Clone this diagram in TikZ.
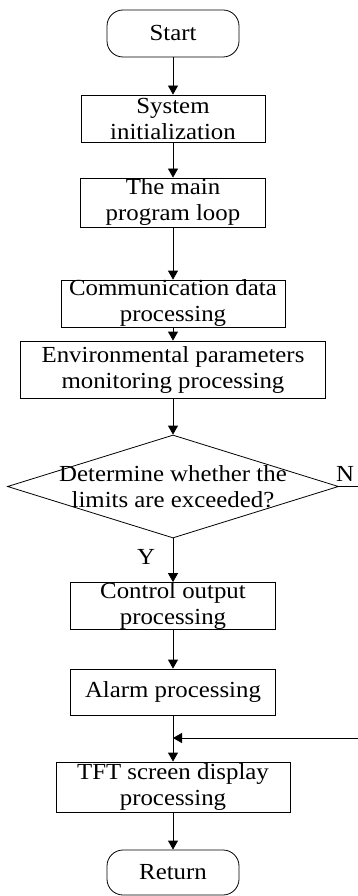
\documentclass[tikz,border=0pt]{standalone}
\usepackage{fontspec}
\setmainfont{Liberation Serif}[FakeStretch=1.08]
\usetikzlibrary{shapes.geometric,arrows.meta}
\begin{document}
\begin{tikzpicture}[x=1pt,y=-1pt,line width=.8pt,
    >={Triangle[length=9pt,width=10pt]},
    font=\fontsize{23}{26}\selectfont,
    box/.style={draw,align=center,inner sep=0pt},
    term/.style={box,rounded corners=16pt,minimum width=132pt},
    decision/.style={draw,diamond,inner sep=0pt,minimum width=331pt,minimum height=103pt}]
  \useasboundingbox(0,0)rectangle(358,896);
  \node[term,minimum height=47pt](start)at(173,33.5){Start};
  \node[box,minimum width=184pt,minimum height=47pt](init)at(173,118.5){System\\initialization};
  \node[box,minimum width=185pt,minimum height=49pt](loop)at(173,202.5){The main\\program loop};
  \node[box,minimum width=224pt,minimum height=43pt](comm)at(173,303.5){Communication data\\processing};
  \node[box,minimum width=305pt,minimum height=57pt](env)at(173,369.5){Environmental parameters\\monitoring processing};
  \node[decision,label={[align=center]center:Determine whether the\\limits are exceeded?}](dec)at(173,486.5){};
  \node[box,minimum width=205pt,minimum height=46pt](ctrl)at(173,606){Control output\\processing};
  \node[box,minimum width=205pt,minimum height=46pt](alarm)at(173,692){Alarm processing};
  \node[box,minimum width=234pt,minimum height=50pt](tft)at(173,787){TFT screen display\\processing};
  \node[term,minimum height=45pt](ret)at(173,872.5){Return};
  \node(yes)at(146,557){Y};
  \node(no)at(345,474){N};
  \coordinate(nend)at(358,486.5);
  \coordinate(back)at(358,738);
  \draw[->](start)--(init);
  \draw[->](init)--(loop);
  \draw[->](loop)--(comm);
  \draw[->](comm)--(env);
  \draw[->](env)--(dec);
  \draw[->](dec)--(ctrl);
  \draw[->](ctrl)--(alarm);
  \draw[->](alarm)--(tft);
  \draw[->](tft)--(ret);
  \draw(dec.east)--(nend);
  \draw[->](back)--(back-|alarm.south);
\end{tikzpicture}
\end{document}
